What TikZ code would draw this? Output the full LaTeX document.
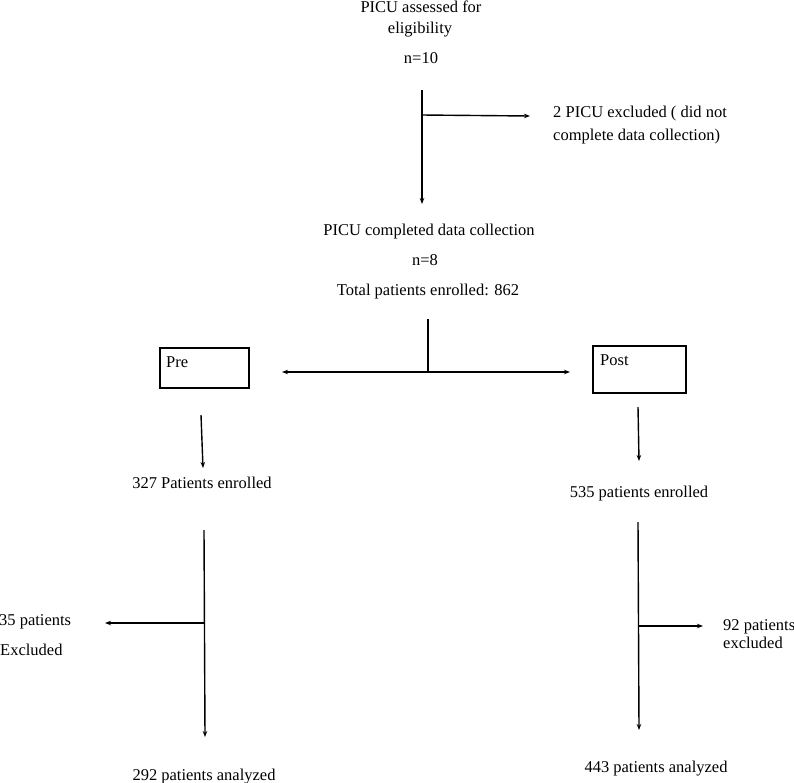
\documentclass[tikz,border=0pt]{standalone}
\usepackage{fontspec}
\setmainfont{Liberation Serif}
\usetikzlibrary{arrows.meta}
\begin{document}
\begin{tikzpicture}[x=1pt,y=-1pt,
  lbl/.style={inner sep=0pt,font=\fontsize{16.5}{20}\selectfont},
  lblc/.style={lbl,anchor=base},
  lbll/.style={lbl,anchor=base west},
  conn/.style={line width=1.4pt,draw=black},
  arr/.style={conn,-{Stealth[length=6pt,width=4.5pt]}},
  boxst/.style={draw=black,line width=1.5pt,inner sep=0pt}]
\useasboundingbox (0,0) rectangle (794,782);
% texts
\node[lblc] (t1a) at (421,12) {PICU assessed for};
\node[lblc] (t1b) at (420,33) {eligibility};
\node[lblc] (t1c) at (421,63) {n=10};
\node[lbll] (ex1a) at (553,117) {2 PICU excluded ( did not};
\node[lbll] (ex1b) at (553,140) {complete data collection)};
\node[lblc] (t2a) at (429,235) {PICU completed data collection};
\node[lblc] (t2b) at (425,265) {n=8};
\node[lblc] (t2c) at (428,295) {Total patients enrolled: 862};
% boxes
\node[boxst,minimum width=89pt,minimum height=40pt] (pre) at (204.5,368) {};
\node[lbll] (pretxt) at (166,367) {Pre};
\node[boxst,minimum width=93pt,minimum height=47pt] (post) at (639.5,369.5) {};
\node[lbll] (posttxt) at (600,365) {Post};
\node[lblc] (e1) at (202,488) {327 Patients enrolled};
\node[lblc] (e2) at (639,497) {535 patients enrolled};
\node[lbll] (x1a) at (-1,625) {35 patients};
\node[lbll] (x1b) at (0,655) {Excluded};
\node[lbll] (x2a) at (723,630) {92 patients};
\node[lbll] (x2b) at (723,648) {excluded};
\node[lblc] (a1) at (204,780) {292 patients analyzed};
\node[lblc] (a2) at (656,772) {443 patients analyzed};
% coordinates
\coordinate (v1s) at (422,90);
\coordinate (v1b) at (422,115);
\coordinate (v1e) at (422,204);
\coordinate (b1e) at (530,116);
\coordinate (v2s) at (428,319);
\coordinate (v2j) at (428,372);
\coordinate (hl) at (282,372);
\coordinate (hr) at (570,372);
\coordinate (p1s) at (201,415);
\coordinate (p1e) at (203,468);
\coordinate (p2s) at (638,407);
\coordinate (p2e) at (639,461);
\coordinate (l3s) at (204,530);
\coordinate (l3b) at (204.5,623);
\coordinate (l3e) at (205,737);
\coordinate (b3e) at (105,623);
\coordinate (r3s) at (638,522);
\coordinate (r3b) at (638.3,626);
\coordinate (r3e) at (639,730);
\coordinate (b4e) at (703,626);
% connectors
\draw[arr] (v1s) -- (v1e);
\draw[arr] (v1b) -- (b1e);
\draw[conn] (v2s) -- (v2j);
\draw[arr] (v2j) -- (hl);
\draw[arr] (v2j) -- (hr);
\draw[arr] (p1s) -- (p1e);
\draw[arr] (p2s) -- (p2e);
\draw[arr] (l3s) -- (l3e);
\draw[arr] (l3b) -- (b3e);
\draw[arr] (r3s) -- (r3e);
\draw[arr] (r3b) -- (b4e);
\end{tikzpicture}
\end{document}
